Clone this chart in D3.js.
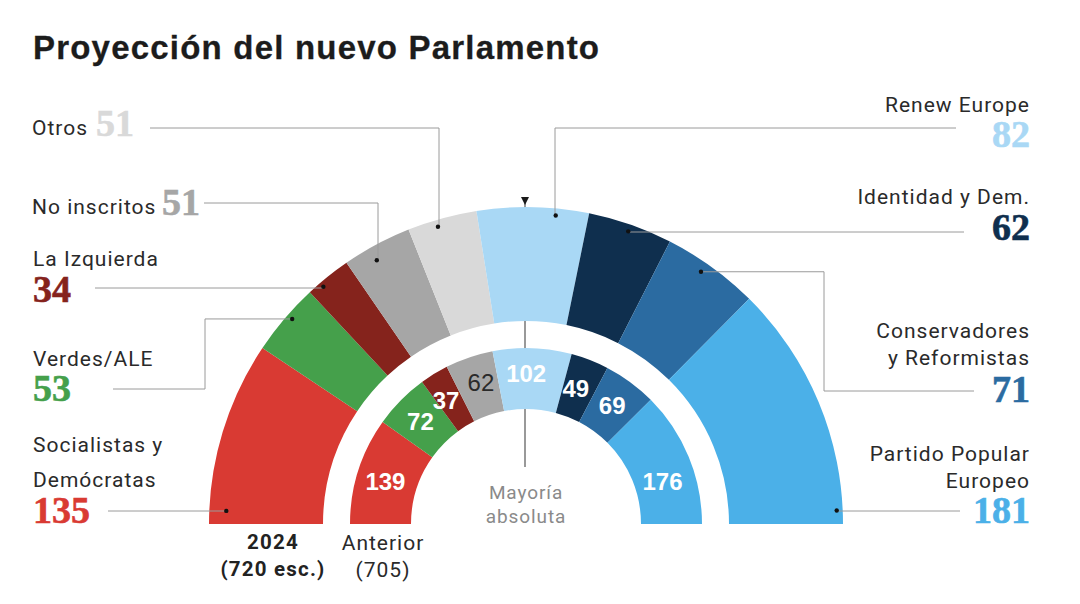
<!DOCTYPE html>
<html>
<head>
<meta charset="utf-8">
<script src="https://cdn.jsdelivr.net/npm/d3@7"></script>
<style>
  html, body { margin: 0; padding: 0; background: #fff; }
  text { font-family: Roboto, sans-serif; }
  .name { font-size: 21px; fill: #2a2a2a; letter-spacing: 1px; }
  .note { font-size: 19px; fill: #8a8a8a; letter-spacing: 0.9px; }
  .bold { font-size: 20.5px; font-weight: 700; fill: #222; letter-spacing: 1.2px; }
  .seats { font-family: "Liberation Serif", serif; font-weight: 700; font-size: 38px; stroke-width: 0.6px; }
  .title { font-family: "Liberation Sans", sans-serif; font-weight: 700; font-size: 33px; fill: #1c1c1c; letter-spacing: 1.2px; stroke: #1c1c1c; stroke-width: 0.3px; }
  .prev { font-family: "Liberation Sans", sans-serif; font-size: 24px; }
</style>
</head>
<body>
<svg id="chart" width="1080" height="604"></svg>
<script>
// data
var parties = ['Socialistas y Demócratas', 'Verdes/ALE', 'La Izquierda', 'No inscritos', 'Otros',
               'Renew Europe', 'Identidad y Dem.', 'Conservadores y Reformistas', 'Partido Popular Europeo'];
var seats2024 = [135, 53, 34, 51, 51, 82, 62, 71, 181];
var seatsPrev = [139, 72, 37, 62, 102, 49, 69, 176];
var prevParties = ['Socialistas y Demócratas', 'Verdes/ALE', 'La Izquierda', 'No inscritos',
                   'Renew Europe', 'Identidad y Dem.', 'Conservadores y Reformistas', 'Partido Popular Europeo'];
var colors = ['#d93a33', '#45a04b', '#85231c', '#a6a6a6', '#d9d9d9', '#a9d8f5', '#0f2f4e', '#2b6ba1', '#4bb0e8'];

// layout of labels and leader lines, one entry per party
var cx = 526, cy = 524;
var layout = [
  {lines: [['Socialistas y', 33, 452], ['Demócratas', 33, 487]], num: [33, 523], anchor: 'start', dotSeat: 10, dotR: 300, route: [[108, 511]]},
  {lines: [['Verdes/ALE', 33, 366]], num: [33, 401], anchor: 'start', dotSeat: 165, dotR: 311, route: [[113, 389], [205, 389], [205, 319]]},
  {lines: [['La Izquierda', 33, 266]], num: [33, 302], anchor: 'start', dotSeat: 198, dotR: 312, route: [[95, 288]]},
  {lines: [['No inscritos', 32, 214]], num: [162, 215], anchor: 'start', dotSeat: 242, dotR: 303, route: [[204, 203], [378, 203]]},
  {lines: [['Otros', 32, 135]], num: [96, 136], anchor: 'start', dotSeat: 294, dotR: 310, route: [[150, 128], [439, 128]]},
  {lines: [['Renew Europe', 1030, 112]], num: [1030, 147], anchor: 'end', dotSeat: 382, dotR: 310, route: [[956, 128], [555, 128]]},
  {lines: [['Identidad y Dem.', 1030, 204]], num: [1030, 240], anchor: 'end', dotSeat: 437, dotR: 310, route: [[964, 232]]},
  {lines: [['Conservadores', 1030, 338], ['y Reformistas', 1030, 365]], num: [1030, 402], anchor: 'end', dotSeat: 499, dotR: 307, route: [[974, 391], [824, 391], [824, 272]]},
  {lines: [['Partido Popular', 1030, 461], ['Europeo', 1030, 488]], num: [1030, 523], anchor: 'end', dotSeat: 710, dotR: 311, route: [[960, 511]]}
];
// nudges of the inner ring numbers off the centroid
var prevShift = [[-2, 2], [-2, 0], [-4, 0], [2, -4], [-5, -5], [-3, 0], [0, -1], [2, 13]];

var svg = d3.select('#chart');

svg.append('text').attr('class', 'title')
  .attr('x', 33).attr('y', 59)
  .text('Proyección del nuevo Parlamento');

var g = svg.append('g').attr('transform', 'translate(' + cx + ',' + cy + ')');

var pie = d3.pie().sort(null).startAngle(-Math.PI / 2).endAngle(Math.PI / 2);
var outerArc = d3.arc().innerRadius(203).outerRadius(317);
var innerArc = d3.arc().innerRadius(115).outerRadius(176);

// majority line sits behind the rings
g.append('line')
  .attr('x1', -1).attr('x2', -1)
  .attr('y1', -324).attr('y2', -57)
  .attr('stroke', '#555').attr('stroke-width', 1.2);
g.append('path')
  .attr('d', 'M-5,-327L3,-327L-1,-319Z')
  .attr('fill', '#1a1a1a');

g.selectAll('path.outer')
  .data(pie(seats2024))
  .enter().append('path')
  .attr('class', 'outer')
  .attr('d', outerArc)
  .attr('fill', function(d, i) { return colors[i]; });

var prevColor = function(i) { return colors[parties.indexOf(prevParties[i])]; };

g.selectAll('path.inner')
  .data(pie(seatsPrev))
  .enter().append('path')
  .attr('class', 'inner')
  .attr('d', innerArc)
  .attr('fill', function(d, i) { return prevColor(i); });

g.selectAll('text.prev')
  .data(pie(seatsPrev))
  .enter().append('text')
  .attr('class', 'prev')
  .attr('transform', function(d, i) {
    var c = innerArc.centroid(d);
    return 'translate(' + (c[0] + prevShift[i][0]) + ',' + (c[1] + prevShift[i][1]) + ')';
  })
  .attr('text-anchor', 'middle')
  .attr('dy', '0.36em')
  .attr('font-weight', function(d, i) { return i === 3 ? 400 : 700; })
  .attr('fill', function(d, i) { return i === 3 ? '#2a2a2a' : '#fff'; })
  .text(function(d) { return d.data; });

// seat position on the half circle
var total = d3.sum(seats2024);
var angle = d3.scaleLinear().domain([0, total]).range([-Math.PI / 2, Math.PI / 2]);
var dotPos = function(l) {
  var a = angle(l.dotSeat);
  return [cx + l.dotR * Math.sin(a), cy - l.dotR * Math.cos(a)];
};

var line = d3.line();
svg.selectAll('path.leader')
  .data(layout)
  .enter().append('path')
  .attr('class', 'leader')
  .attr('fill', 'none')
  .attr('stroke', '#9a9a9a')
  .attr('stroke-width', 1)
  .attr('d', function(l) {
    var p = dotPos(l), pts = l.route.slice();
    var last = pts[pts.length - 1];
    // last bend keeps the dot's row, single runs stay level
    if (pts.length > 1) {
      pts.push([last[0], p[1]]);
    } else {
      pts.push([p[0], last[1]]);
    }
    pts.push(p);
    return line(pts);
  });

svg.selectAll('circle.dot')
  .data(layout)
  .enter().append('circle')
  .attr('class', 'dot')
  .attr('cx', function(l) { return dotPos(l)[0]; })
  .attr('cy', function(l) { return dotPos(l)[1]; })
  .attr('r', 2.2)
  .attr('fill', '#111');

layout.forEach(function(l, i) {
  l.lines.forEach(function(t) {
    svg.append('text').attr('class', 'name')
      .attr('x', t[1]).attr('y', t[2])
      .attr('text-anchor', l.anchor)
      .text(t[0]);
  });
  svg.append('text').attr('class', 'seats')
    .attr('x', l.num[0]).attr('y', l.num[1])
    .attr('text-anchor', l.anchor)
    .attr('fill', colors[i])
    .attr('stroke', colors[i])
    .text(seats2024[i]);
});

// ring captions
svg.append('text').attr('class', 'bold').attr('x', 273).attr('y', 549).attr('text-anchor', 'middle').text('2024');
svg.append('text').attr('class', 'bold').attr('x', 273).attr('y', 576).attr('text-anchor', 'middle').text('(720 esc.)');
svg.append('text').attr('class', 'name').attr('x', 383).attr('y', 550).attr('text-anchor', 'middle').text('Anterior');
svg.append('text').attr('class', 'name').attr('x', 383).attr('y', 577).attr('text-anchor', 'middle').text('(705)');
svg.append('text').attr('class', 'note').attr('x', 526).attr('y', 499).attr('text-anchor', 'middle').text('Mayoría');
svg.append('text').attr('class', 'note').attr('x', 526).attr('y', 523).attr('text-anchor', 'middle').text('absoluta');
</script>
</body>
</html>
